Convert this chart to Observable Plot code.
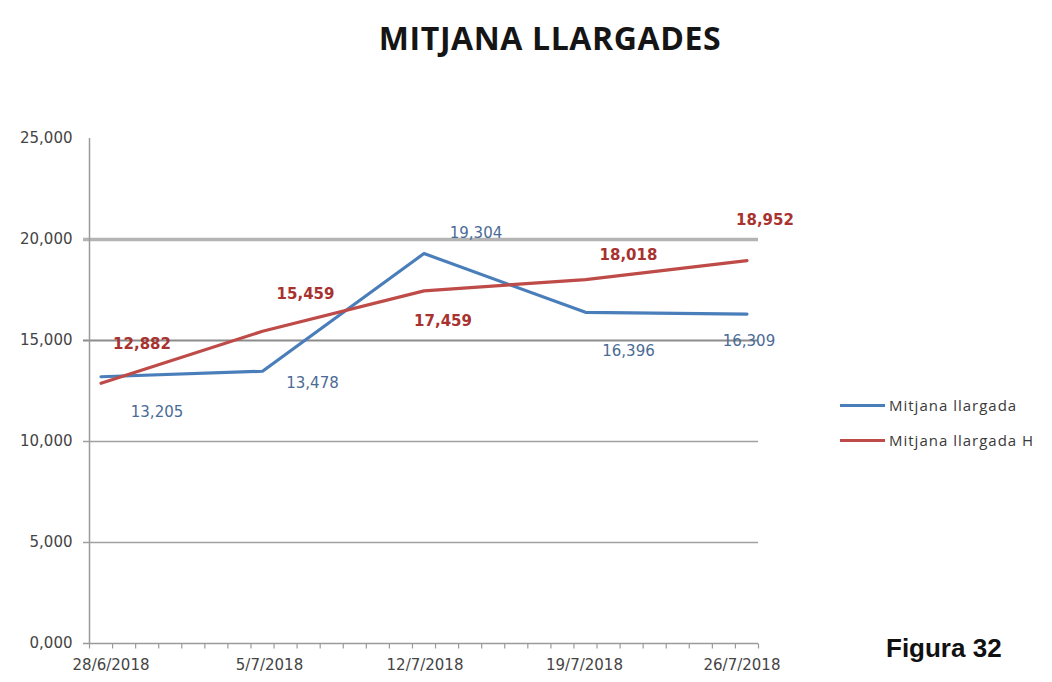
<!DOCTYPE html>
<html>
<head>
<meta charset="utf-8">
<script src="https://cdn.jsdelivr.net/npm/d3@7"></script>
<script src="https://cdn.jsdelivr.net/npm/@observablehq/plot@0.6"></script>
<style>
  html, body { margin: 0; padding: 0; background: #fff; }
  #wrap { position: relative; width: 1052px; height: 682px; overflow: hidden; background: #fff; }
  #title { position: absolute; left: 0; top: 22px; width: 1100px; text-align: center;
           font: 700 32px "Open Sans", sans-serif; line-height: 32px; letter-spacing: 0.6px; color: #151515; }
  #chart { position: absolute; left: 0; top: 0; }
  #legend { position: absolute; left: 840px; top: 393px; font: 15px "Open Sans", sans-serif; letter-spacing: 1px; color: #3a3a3a; }
  .item { display: flex; align-items: center; height: 24px; margin-bottom: 11px; }
  .swatch { width: 45px; height: 3px; margin-right: 4px; }
  #fig { position: absolute; left: 886px; top: 633px; font: 700 26px "Liberation Sans", Arial, sans-serif; color: #111; }
</style>
</head>
<body>
<div id="wrap">
  <div id="title">MITJANA LLARGADES</div>
  <div id="chart"></div>
  <div id="legend"></div>
  <div id="fig">Figura 32</div>
</div>
<script>
// ---- data ----
const dateLabels = ["28/6/2018", "5/7/2018", "12/7/2018", "19/7/2018", "26/7/2018"];
const seriesNames = ["Mitjana llargada", "Mitjana llargada H"];
const blueValues = [13.205, 13.478, 19.304, 16.396, 16.309];
const redValues  = [12.882, 15.459, 17.459, 18.018, 18.952];
const yTicks = [0, 5, 10, 15, 20, 25];

// ---- styles / label offsets (px) ----
const lineColors  = ["#4a7ebb", "#be4b48"];
const labelColors = ["#4a6b96", "#a8322f"];
const blueDx = [56, 50, 52, 43, 2],  blueDy = [35, 12, -20, 39, 27];
const redDx  = [41, 43, 19, 43, 18], redDy  = [-39, -37, 30, -24, -40];
const dateDx = [10, 7, 1, -1, -5];

const parse = d3.utcParse("%d/%m/%Y");
const dates = dateLabels.map(parse);
const locale = d3.formatLocale({decimal: ",", thousands: ".", grouping: [3], currency: ["", ""]});
const fmt = locale.format(".3f");

const blue = dates.map((d, i) => ({date: d, value: blueValues[i], label: fmt(blueValues[i]), dx: blueDx[i], dy: blueDy[i]}));
const red  = dates.map((d, i) => ({date: d, value: redValues[i],  label: fmt(redValues[i]),  dx: redDx[i],  dy: redDy[i]}));
const xLabels = dates.map((d, i) => ({date: d, label: dateLabels[i], dx: dateDx[i]}));

const x0 = d3.utcHour.offset(dates[0], -12);
const x1 = d3.utcHour.offset(dates[dates.length - 1], 12);
const dayTicks = d3.utcDay.range(dates[0], d3.utcDay.offset(dates[dates.length - 1], 2))
  .map(d => d3.utcHour.offset(d, -12));

const axisGray = "#9a9a9a";
const labelFont = "DejaVu Sans, sans-serif";
const tickSymbol = {draw(ctx) { ctx.moveTo(0, 0); ctx.lineTo(0, 5); }};

const plot = Plot.plot({
  width: 800,
  height: 682,
  marginTop: 138,
  marginBottom: 39,
  marginLeft: 89,
  marginRight: 42,
  style: {fontFamily: labelFont, fontSize: "15px", background: "transparent", overflow: "visible"},
  x: {type: "utc", domain: [x0, x1], axis: null},
  y: {domain: [0, 25]},
  marks: [
    Plot.ruleY([5, 10], {stroke: "#a0a0a0", strokeWidth: 1.4, insetLeft: -6}),
    Plot.ruleY([15], {stroke: "#8c8c8c", strokeWidth: 2, insetLeft: -6}),
    Plot.ruleY([20], {stroke: "#b4b4b4", strokeWidth: 3.5, insetLeft: -6}),
    Plot.ruleY([0], {stroke: axisGray, strokeWidth: 1.5, insetLeft: -6}),
    Plot.ruleX([x0], {y1: 0, y2: 25, stroke: axisGray, strokeWidth: 1.5}),
    Plot.dot(dayTicks, {x: d => d, y: () => 0, symbol: tickSymbol, stroke: axisGray, strokeWidth: 1.2, fill: "none"}),
    ...xLabels.map(p => Plot.text([p], {x: "date", y: () => 0, text: "label", dx: p.dx, dy: 22,
      fill: "#444", fontSize: 15, fontFamily: labelFont, letterSpacing: 1.4})),
    Plot.axisY({ticks: yTicks, tickSize: 0, tickPadding: 17, tickFormat: fmt, fill: "#444", fontSize: 15,
      letterSpacing: 1.8, label: null}),
    Plot.line(blue, {x: "date", y: "value", stroke: lineColors[0], strokeWidth: 3.2}),
    Plot.line(red, {x: "date", y: "value", stroke: lineColors[1], strokeWidth: 3.2}),
    ...blue.map(p => Plot.text([p], {x: "date", y: "value", text: "label", dx: p.dx, dy: p.dy,
      fill: labelColors[0], fontSize: 15, fontFamily: labelFont, letterSpacing: 1.4})),
    ...red.map(p => Plot.text([p], {x: "date", y: "value", text: "label", dx: p.dx, dy: p.dy,
      fill: labelColors[1], fontSize: 15, fontWeight: "bold", fontFamily: labelFont, letterSpacing: 1}))
  ]
});
document.getElementById("chart").append(plot);

// legend
const legend = document.getElementById("legend");
seriesNames.forEach((name, i) => {
  const item = document.createElement("div");
  item.className = "item";
  const sw = document.createElement("div");
  sw.className = "swatch";
  sw.style.background = lineColors[i];
  const t = document.createElement("span");
  t.textContent = name;
  item.append(sw, t);
  legend.append(item);
});
</script>
</body>
</html>
